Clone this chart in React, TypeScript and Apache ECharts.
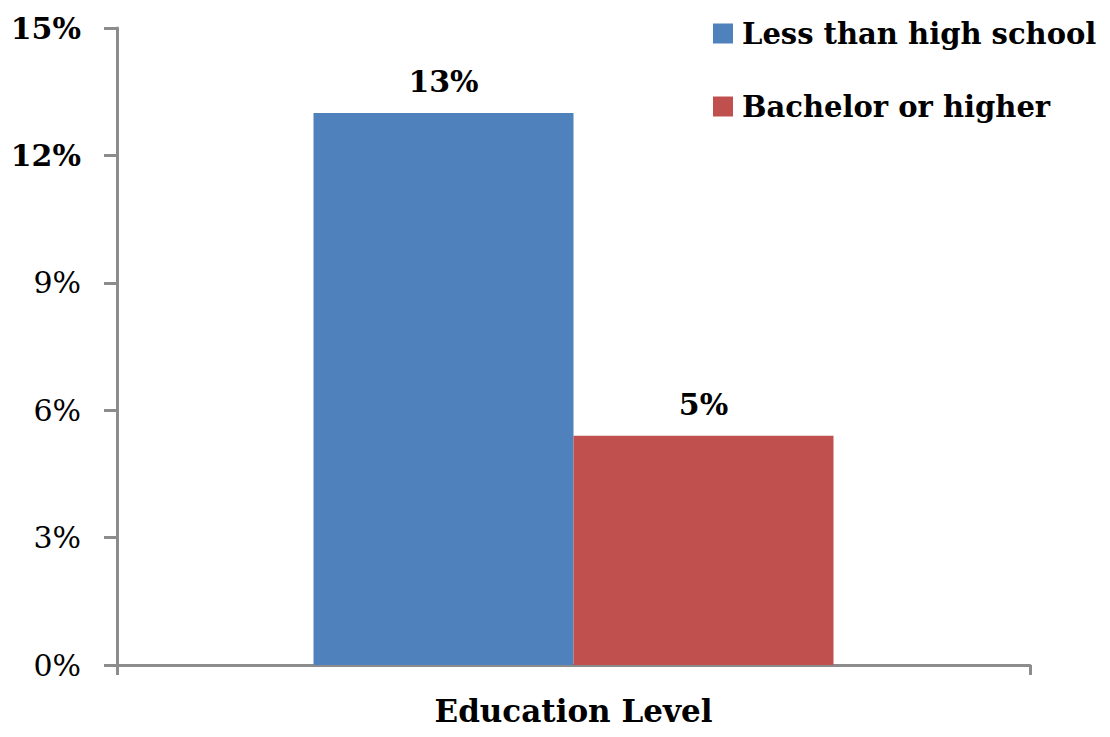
import React, { useEffect, useRef } from "react";
import * as echarts from "echarts";

const categories = ["Education Level"];
const seriesNames = ["Less than high school", "Bachelor or higher"];
const lessThanHighSchool = [13.0];
const bachelorOrHigher = [5.4];
const colors = ["#4F81BD", "#C0504D"];
const yTicks = [0, 3, 6, 9, 12, 15];

const FONT = "DejaVu Serif";

export default function App() {
  const ref = useRef<HTMLDivElement>(null);
  useEffect(() => {
    if (!ref.current) return;
    const chart = echarts.init(ref.current, undefined, { renderer: "svg" });
    const labelCfg = {
      show: true,
      position: "top" as const,
      distance: 16,
      fontFamily: FONT,
      fontWeight: "bold" as const,
      fontSize: 30,
      color: "#000",
      formatter: (p: any) => Math.round(p.value) + "%",
    };
    chart.setOption({
      animation: false,
      textStyle: { fontFamily: FONT },
      legend: {
        orient: "vertical",
        left: 708,
        top: 14,
        itemWidth: 20,
        itemHeight: 20,
        itemGap: 44,
        icon: "rect",
        textStyle: { fontFamily: FONT, fontWeight: "bold", fontSize: 29, color: "#000", padding: [0, 0, 0, 4] },
        data: seriesNames,
      },
      grid: { left: 117, right: 80, top: 28, bottom: 72, containLabel: false },
      xAxis: {
        type: "category",
        data: categories,
        axisLine: { lineStyle: { color: "#8c8c8c", width: 3 } },
        axisTick: { show: true, length: 10, lineStyle: { color: "#8c8c8c", width: 3 } },
        axisLabel: { fontFamily: FONT, fontWeight: "bold", fontSize: 31, color: "#000", margin: 30 },
      },
      yAxis: {
        type: "value",
        min: yTicks[0],
        max: yTicks[yTicks.length - 1],
        interval: 3,
        splitLine: { show: false },
        axisLine: { show: true, lineStyle: { color: "#8c8c8c", width: 3 } },
        axisTick: { show: true, length: 13, lineStyle: { color: "#8c8c8c", width: 3 } },
        axisLabel: {
          fontFamily: FONT,
          fontSize: 30,
          color: "#000",
          margin: 36,
          formatter: (v: number) => (v >= 12 ? "{b|" + v + "%}" : "{n|" + v + "%}"),
          rich: {
            b: { fontFamily: FONT, fontWeight: "bold", fontSize: 30, color: "#000" },
            n: { fontFamily: FONT, fontWeight: "normal", fontSize: 30, color: "#000" },
          },
        },
      },
      series: [
        {
          name: seriesNames[0],
          type: "bar",
          data: lessThanHighSchool,
          barWidth: 260,
          barGap: "0%",
          itemStyle: { color: colors[0] },
          label: labelCfg,
        },
        {
          name: seriesNames[1],
          type: "bar",
          data: bachelorOrHigher,
          barWidth: 260,
          barGap: "0%",
          itemStyle: { color: colors[1] },
          label: labelCfg,
        },
      ],
    });
    return () => chart.dispose();
  }, []);
  return (
    <div
      ref={ref}
      style={{ position: "fixed", left: 0, top: 0, width: 1110, height: 737, background: "#fff" }}
    />
  );
}
